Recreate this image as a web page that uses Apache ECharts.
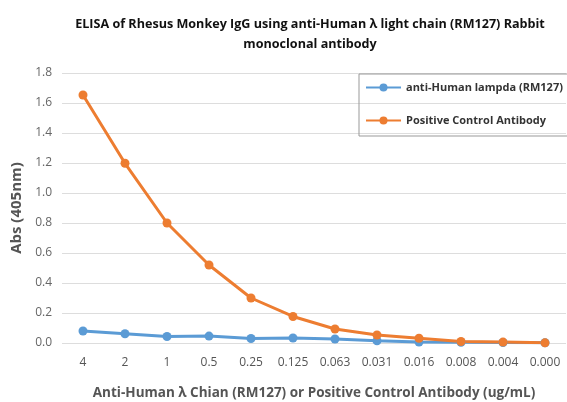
<!DOCTYPE html>
<html>
<head>
<meta charset="utf-8">
<script src="https://cdn.jsdelivr.net/npm/echarts@6/dist/echarts.min.js"></script>
<style>
  html, body { margin: 0; padding: 0; background: #fff; }
  #chart { width: 567px; height: 402px; }
</style>
</head>
<body>
<div id="chart"></div>
<script>
// concentrations (ug/mL)
const concentrations = ['4', '2', '1', '0.5', '0.25', '0.125', '0.063', '0.031', '0.016', '0.008', '0.004', '0.000'];
// Abs (405nm)
const lampdaValues = [0.08, 0.062, 0.043, 0.046, 0.03, 0.033, 0.027, 0.015, 0.006, 0.005, 0.003, 0.002];
const positiveValues = [1.653, 1.198, 0.8, 0.52, 0.3, 0.177, 0.093, 0.053, 0.032, 0.01, 0.006, 0.001];
const yTicks = [0, 0.2, 0.4, 0.6, 0.8, 1.0, 1.2, 1.4, 1.6, 1.8];

const font = '"Open Sans", "Liberation Sans", sans-serif';
const chart = echarts.init(document.getElementById('chart'));

const mkSeries = (name, data, color) => ({
  name: name,
  type: 'line',
  data: data,
  symbol: 'circle',
  symbolSize: 9,
  lineStyle: { width: 3, color: color },
  itemStyle: { color: color },
  emphasis: { disabled: true }
});

chart.setOption({
  animation: false,
  textStyle: { fontFamily: font },
  title: {
    text: 'ELISA of Rhesus Monkey IgG using anti-Human λ light chain (RM127) Rabbit\nmonoclonal antibody',
    left: 305,
    textAlign: 'center',
    top: 9,
    textStyle: { fontFamily: font, fontSize: 12.6, fontWeight: 'bold', color: '#111', lineHeight: 20 }
  },
  legend: {
    orient: 'vertical',
    left: 359,
    top: 74,
    padding: [8, 20, 10, 6],
    itemGap: 22,
    itemWidth: 35,
    itemHeight: 10,
    borderColor: '#999',
    borderWidth: 1,
    textStyle: { fontFamily: font, fontSize: 11, fontWeight: 'bold', color: '#333' },
    data: ['anti-Human lampda (RM127)', 'Positive Control Antibody']
  },
  grid: { left: 62, right: 1, top: 73, bottom: 59, outerBoundsMode: 'none' },
  xAxis: {
    type: 'category',
    data: concentrations,
    boundaryGap: true,
    axisLine: { show: false },
    axisTick: { show: false },
    axisLabel: { margin: 14, fontSize: 12, color: '#555', fontFamily: font },
    name: 'Anti-Human λ Chian (RM127) or Positive Control Antibody (ug/mL)',
    nameLocation: 'middle',
    nameGap: 43,
    nameTextStyle: { fontSize: 13.5, fontWeight: 'bold', color: '#555', fontFamily: font }
  },
  yAxis: {
    type: 'value',
    min: yTicks[0],
    max: yTicks[yTicks.length - 1],
    interval: 0.2,
    axisLabel: {
      margin: 10, fontSize: 12, color: '#666', fontFamily: font,
      formatter: v => v.toFixed(1)
    },
    splitLine: { lineStyle: { color: '#ddd', width: 1 } },
    name: 'Abs (405nm)',
    nameLocation: 'middle',
    nameGap: 36,
    nameTextStyle: { fontSize: 15, fontWeight: 'bold', color: '#555', fontFamily: font }
  },
  series: [
    mkSeries('anti-Human lampda (RM127)', lampdaValues, '#5B9BD5'),
    mkSeries('Positive Control Antibody', positiveValues, '#ED7D31')
  ]
});
</script>
</body>
</html>
